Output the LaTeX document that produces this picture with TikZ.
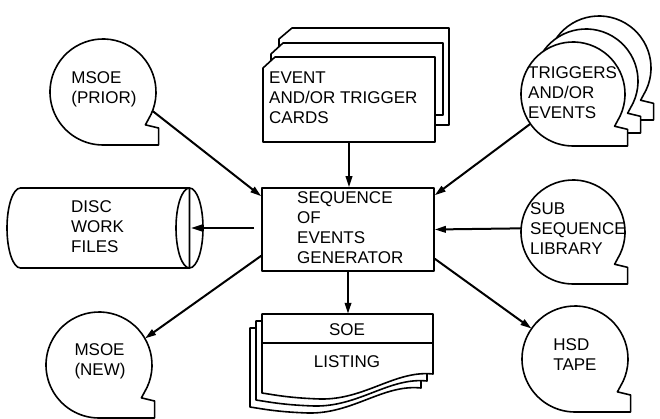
\documentclass[tikz,border=0pt]{standalone}
\usepackage{fontspec}
\setmainfont{Liberation Sans}
\usetikzlibrary{arrows.meta}
\begin{document}
\begin{tikzpicture}[x=1pt,y=1pt,
  outline/.style={line width=1.6pt, line join=round},
  conn/.style={line width=2pt, -{Triangle[length=11pt,width=6.5pt]}},
  lbl/.style={font=\fontsize{17}{20}\selectfont, align=left, inner sep=0},
  hook/.style={circle, minimum size=#1, inner sep=0, draw=none},
  tape/.pic={\draw[outline, fill=white] (-25:1) arc[start angle=-25,end angle=270,radius=1]
      -- (1.05,-1) -- (1.05,-0.68) -- (0.8,-0.62) -- cycle;},
  docpage/.pic={\draw[outline, fill=white] (262,105) -- (433,105) -- (433,45)
      .. controls (395,49) and (365,19) .. (320,20)
      .. controls (290,21) and (275,24) .. (262,26) -- cycle;},
]
\useasboundingbox (0,0) rectangle (660,419);

% ---- central generator box
\node[draw, outline, minimum width=172pt, minimum height=83pt, inner sep=0] (gen) at (348,189.5) {};
\node[lbl, anchor=west] (gentxt) at (297,191) {SEQUENCE\\OF\\EVENTS\\GENERATOR};

% ---- cards (back to front)
\draw[outline, fill=white] (292,391) -- (449,391) -- (449,294) -- (279,294) -- (279,380) -- cycle;
\draw[outline, fill=white] (283,376) -- (443,376) -- (443,304) -- (271,304) -- (271,365) -- cycle;
\draw[outline, fill=white] (275,362) -- (435,362) -- (435,277) -- (263,277) -- (263,351) -- cycle;
\node[minimum width=172pt, minimum height=85pt, inner sep=0] (cards) at (349,319.5) {};
\node[lbl, anchor=west] (cardstxt) at (269,321) {EVENT\\AND/OR TRIGGER\\CARDS};

% ---- MSOE (PRIOR)
\pic[scale=53] at (103,327) {tape};
\node[hook=106pt] (prior) at (103,327) {};
\node[lbl] (priortxt) at (104,330) {MSOE\\(PRIOR)};

% ---- TRIGGERS AND/OR EVENTS (stack)
\pic[scale=52] at (599,351) {tape};
\pic[scale=52] at (586,338) {tape};
\pic[scale=52] at (573,325) {tape};
\node[hook=104pt] (trig) at (573,325) {};
\node[lbl, anchor=west] (trigtxt) at (528,326) {TRIGGERS\\AND/OR\\EVENTS};

% ---- SUB SEQUENCE LIBRARY
\pic[scale=52] at (573,187) {tape};
\node[hook=104pt] (sub) at (573,187) {};
\node[lbl, anchor=west] (subtxt) at (530,190) {SUB\\SEQUENCE\\LIBRARY};

% ---- HSD TAPE
\pic[scale=53] at (575,60) {tape};
\node[hook=106pt] (hsd) at (575,60) {};
\node[lbl] (hsdtxt) at (575,64) {HSD\\TAPE};

% ---- MSOE (NEW)
\pic[scale=53] at (99,54) {tape};
\node[hook=106pt] (new) at (99,54) {};
\node[lbl] (newtxt) at (100,58) {MSOE\\(NEW)};

% ---- DISC WORK FILES cylinder
\draw[outline, fill=white] (20.5,231) -- (189.5,231) -- (189.5,151) -- (20.5,151)
   arc[start angle=270, end angle=90, x radius=13.5, y radius=40] -- cycle;
\draw[outline] (189.5,191) ellipse[x radius=13.5, y radius=40];
\coordinate (discend) at (191,191);
\node[lbl, anchor=west] (disctxt) at (71,192) {DISC\\WORK\\FILES};

% ---- SOE LISTING
\pic at (-12,-14) {docpage};
\pic at (-6,-7) {docpage};
\pic at (0,0) {docpage};
\draw[outline] (262,76) -- (433,76);
\node[minimum width=171pt, minimum height=29pt, inner sep=0] (soe) at (347.5,90.5) {};
\node[lbl] (soetxt) at (347,89) {SOE};
\node[lbl] (listtxt) at (347,57) {LISTING};

% ---- connectors
\draw[conn] (prior.-21) -- ([yshift=-9pt]gen.north west);
\draw[conn] (cards.south) -- (cards.south |- gen.north);
\draw[conn] (trig.-145) -- ([yshift=-8pt]gen.north east);
\draw[conn] (sub.176) -- (gen.east);
\draw[conn, shorten <=7pt] ([yshift=1.5pt]gen.west) -- (discend);
\draw[conn] ([yshift=16pt]gen.south west) -- (new.30);
\draw[conn] (gen.south) -- (gen.south |- soe.north);
\draw[conn] ([yshift=13pt]gen.south east) -- (hsd.145);
\end{tikzpicture}
\end{document}
